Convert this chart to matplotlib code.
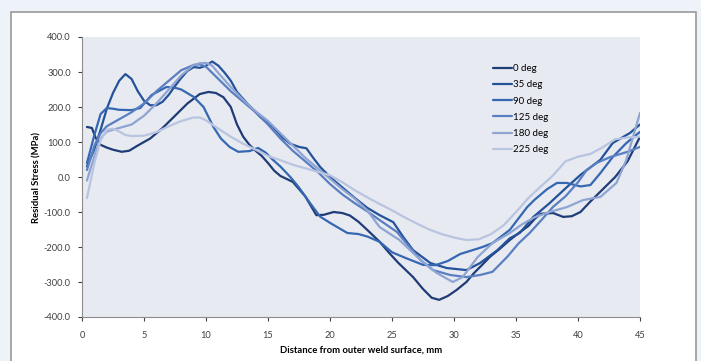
import numpy as np
import matplotlib.pyplot as plt

# (distance mm, residual stress MPa), one list per angle
deg_0 = [(0.4, 143), (0.8, 140), (1.1, 112), (1.5, 92), (2, 84), (2.5, 78), (3.2, 72), (3.8, 75),
         (4.5, 90), (5.5, 110), (6.5, 140), (7.5, 175), (8.5, 210), (9.5, 237), (10.2, 243),
         (10.8, 240), (11.4, 228), (12, 200), (12.5, 150), (13, 115), (13.5, 92), (14, 75),
         (14.5, 60), (15, 40), (15.5, 18), (16, 3), (17, -14), (18, -55), (18.9, -109),
         (19.5, -108), (20.3, -100), (21, -103), (21.6, -110), (22.3, -128), (23, -151),
         (24, -185), (24.8, -218), (25.5, -245), (26.7, -286), (27.5, -320), (28.2, -345),
         (28.8, -351), (29.5, -340), (30.2, -323), (31, -300), (31.6, -275), (32.3, -250),
         (32.9, -228), (33.7, -205), (34.5, -180), (35.3, -158), (36, -140), (36.5, -120),
         (37, -105), (38, -103), (38.8, -114), (39.5, -112), (40.2, -100), (41, -70),
         (42, -35), (43, 0), (44, 45), (45, 115)]

deg_35 = [(0.4, 30), (1, 80), (1.5, 135), (2, 195), (2.5, 240), (3, 275), (3.5, 294), (4, 280),
          (4.5, 245), (5, 218), (5.5, 205), (6, 205), (6.5, 215), (7, 235), (7.5, 260), (8, 283),
          (8.5, 303), (9, 314), (9.5, 312), (10, 318), (10.5, 330), (11, 318), (11.5, 298),
          (12, 275), (12.5, 243), (13.3, 211), (14.4, 171), (15.4, 143), (16.2, 112), (16.8, 95),
          (17.5, 86), (18.1, 82), (18.6, 57), (19.2, 29), (20, 0), (21, -30), (22, -60), (23, -88),
          (24, -109), (25.1, -129), (25.9, -171), (26.7, -209), (28.1, -246), (29.4, -260),
          (31, -266), (32.1, -246), (33.5, -209), (34.5, -175), (35.3, -160), (36.4, -114),
          (37.7, -75), (39.1, -29), (40.2, 6), (41.8, 49), (42.8, 97), (44.2, 126), (45, 150)]

deg_90 = [(0.4, 40), (1, 120), (1.5, 180), (2, 197), (2.5, 195), (3, 192), (4, 191), (4.7, 197),
          (5.6, 234), (6.8, 257), (7.5, 255), (8, 250), (9, 229), (9.8, 200), (10.6, 143),
          (11.2, 110), (11.9, 86), (12.6, 72), (13.5, 74), (14.2, 83), (14.8, 70), (15.4, 49),
          (16, 30), (16.8, 0), (17.5, -30), (18.4, -75), (19.2, -113), (20, -131), (21.4, -160),
          (22.3, -163), (23, -170), (24, -185), (25, -215), (26, -230), (27.5, -251),
          (28.5, -252), (29.5, -240), (30.5, -220), (31.5, -209), (32.3, -200), (33.1, -189),
          (34.5, -151), (35.9, -86), (36.5, -65), (37.5, -35), (38.3, -17), (39.1, -17),
          (40.2, -27), (41, -23), (41.8, 11), (42.8, 57), (43.9, 97), (45, 129)]

deg_125 = [(0.4, 20), (1, 90), (1.5, 125), (2, 145), (3, 165), (4, 185), (5, 210), (6, 245),
           (7, 275), (8, 305), (9, 320), (9.5, 322), (10, 315), (11, 280), (12, 245), (13, 215),
           (14, 185), (15, 150), (16, 110), (17, 75), (18, 45), (19, 15), (20, -20), (21, -50),
           (22, -75), (23, -98), (24, -123), (25.4, -157), (27.3, -237), (28.3, -266),
           (29.7, -280), (31, -286), (32.1, -280), (33.1, -271), (34.3, -228), (35.2, -190),
           (36.1, -160), (37, -125), (38, -85), (39, -55), (40, -15), (40.7, 20), (41.5, 40),
           (42.6, 57), (44, 72), (45, 86)]

deg_180 = [(0.4, -10), (1, 60), (1.5, 110), (2, 130), (3, 140), (4, 150), (5, 175), (6, 210),
           (7, 250), (8, 290), (9, 320), (9.5, 325), (10, 326), (10.5, 318), (11, 297), (12, 257),
           (13, 220), (14, 188), (15, 160), (16, 125), (17, 90), (18, 55), (19, 25), (20, -5),
           (21, -35), (22, -62), (23, -95), (24, -143), (25.6, -180), (27.3, -237), (28.6, -274),
           (29.9, -300), (30.7, -286), (31.9, -229), (33.1, -189), (34.5, -160), (35.5, -135),
           (36.5, -115), (37.7, -100), (39.1, -86), (40.4, -66), (41.8, -57), (43.1, -17),
           (43.9, 49), (45, 183)]

deg_225 = [(0.4, -60), (1, 40), (1.5, 105), (2, 135), (2.5, 138), (3, 130), (3.5, 120), (4, 117),
           (5, 118), (6, 128), (7, 145), (8, 160), (9, 170), (9.5, 170), (10, 162), (11, 138),
           (12, 115), (13, 95), (14, 78), (15, 60), (16, 48), (17, 35), (18, 25), (19, 15),
           (20, 5), (21, -15), (22, -38), (23, -58), (24, -77), (25, -95), (26, -115), (27, -133),
           (28, -150), (29, -163), (30, -173), (31, -180), (32, -178), (33, -163), (34, -138),
           (35, -100), (36, -60), (37, -27), (38, 5), (39, 45), (40, 58), (41, 66), (42, 85),
           (43, 108), (44, 113), (45, 115)]

labels = ["0 deg", "35 deg", "90 deg", "125 deg", "180 deg", "225 deg"]
colors = ["#1f3c78", "#24529a", "#3567b2", "#5a7ec2", "#8ea4d2", "#b9c4e0"]
series = [deg_0, deg_35, deg_90, deg_125, deg_180, deg_225]

plt.rcParams["font.family"] = ["Lato", "DejaVu Sans"]

fig = plt.figure(figsize=(7.01, 3.61), dpi=100)
fig.patch.set_facecolor("#eef2f9")

# white chart frame behind the axes
frame = plt.Rectangle((11 / 701, -0.05), (696 - 11) / 701, (355 - 6) / 361 + 0.05,
                      transform=fig.transFigure, facecolor="white",
                      edgecolor="#9a9a9a", linewidth=1.2, zorder=-10)
fig.patches.append(frame)

ax = fig.add_axes([82 / 701, 1 - 317 / 361, (640 - 82) / 701, (317 - 37) / 361])
ax.set_zorder(5)
ax.set_facecolor("#e7eaf1")

for pts, lab, col in zip(series, labels, colors):
    xs, ys = zip(*pts)
    ax.plot(xs, ys, color=col, linewidth=1.6, label=lab, solid_capstyle="round")

ax.set_xlim(0, 45)
ax.set_ylim(-400, 400)
ax.set_xticks(np.arange(0, 46, 5))
ax.set_yticks(np.arange(-400, 401, 100))
ax.set_yticklabels([f"{v:.1f}" for v in np.arange(-400, 401, 100)])
ax.tick_params(axis="both", labelsize=6.7, colors="#404040", length=3, width=0.8, direction="out")
ax.tick_params(axis="x", pad=7)
ax.tick_params(axis="y", pad=5)
for side in ["top", "right"]:
    ax.spines[side].set_visible(False)
for side in ["left", "bottom"]:
    ax.spines[side].set_color("#8c8c8c")

ax.set_xlabel("Distance from outer weld surface, mm", fontsize=6.8, fontweight="bold", labelpad=4)
ax.set_ylabel("Residual Stress (MPa)", fontsize=6.8, fontweight="bold", labelpad=2)

leg = ax.legend(loc="upper left", bbox_to_anchor=(0.72, 0.935), frameon=False,
                fontsize=7, handlelength=2.0, handletextpad=0.1, labelspacing=0.75)

fig.savefig("out.png", dpi=100)
